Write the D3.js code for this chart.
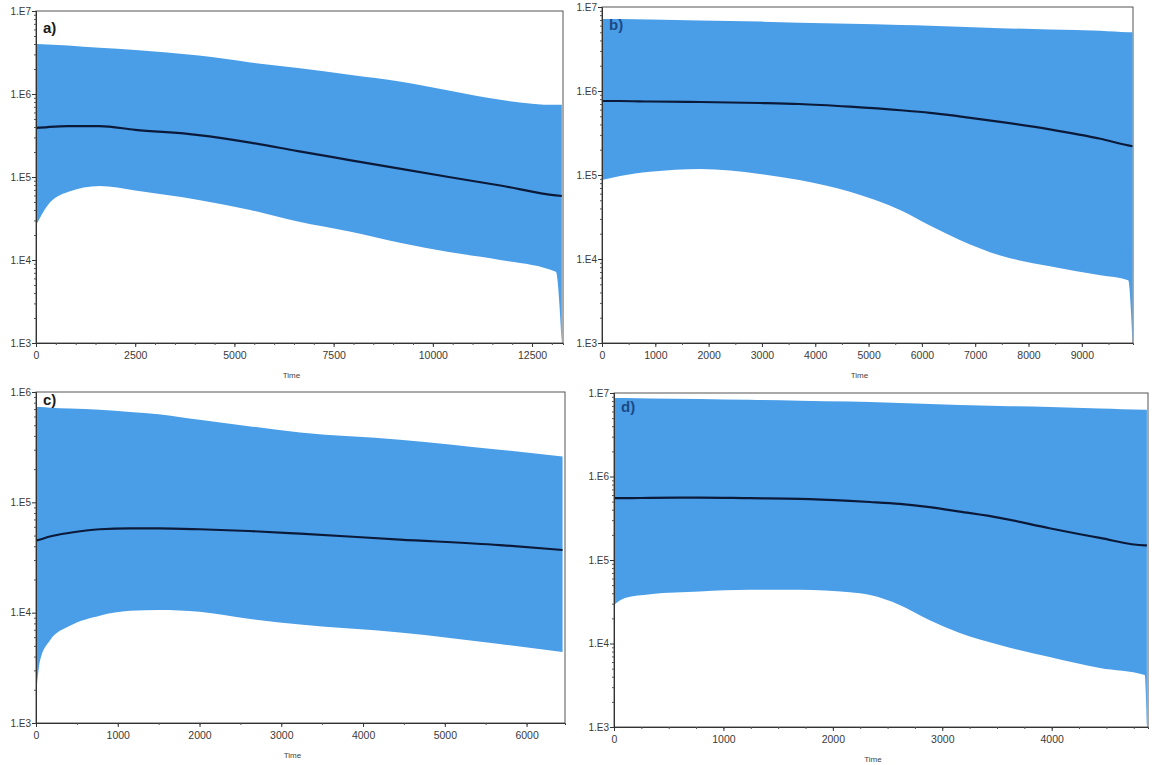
<!DOCTYPE html>
<html>
<head>
<meta charset="utf-8">
<script src="https://cdn.jsdelivr.net/npm/d3@7"></script>
<style>
  body { margin: 0; background: #fff; }
  svg { display: block; }
  text { font-family: "Liberation Sans", Arial, sans-serif; }
</style>
</head>
<body>
<svg id="chart" width="1152" height="765"></svg>
<script>
// panel a)
const aTime   = [0, 300, 800, 1600, 2500, 4100, 5400, 6600, 7900, 9200, 10400, 11700, 13100, 13250]
const aUpper  = [4.0e6, 3.95e6, 3.85e6, 3.6e6, 3.4e6, 2.9e6, 2.4e6, 2.05e6, 1.7e6, 1.4e6, 1.1e6, 8.5e5, 7.4e5, 7.4e5]
const aMedian = [3.9e5, 4.0e5, 4.1e5, 4.1e5, 3.7e5, 3.2e5, 2.6e5, 2.05e5, 1.6e5, 1.25e5, 1.0e5, 7.9e4, 6.0e4, 5.9e4]
const aLower  = [2.6e4, 4.6e4, 6.6e4, 7.8e4, 6.9e4, 5.3e4, 4.0e4, 2.9e4, 2.2e4, 1.6e4, 1.25e4, 1.0e4, 7.2e3, 1.0e3]

// panel b)
const bTime   = [0, 340, 900, 1840, 2960, 3700, 4650, 5600, 6150, 6700, 7470, 8400, 9350, 9870, 9950]
const bUpper  = [7.2e6, 7.2e6, 7.1e6, 6.9e6, 6.7e6, 6.5e6, 6.3e6, 6.1e6, 6.0e6, 5.8e6, 5.6e6, 5.4e6, 5.2e6, 5.0e6, 5.0e6]
const bMedian = [7.6e5, 7.6e5, 7.5e5, 7.4e5, 7.2e5, 7.0e5, 6.5e5, 5.9e5, 5.5e5, 5.0e5, 4.3e5, 3.5e5, 2.7e5, 2.25e5, 2.2e5]
const bLower  = [8.7e4, 9.7e4, 1.09e5, 1.18e5, 1.03e5, 8.7e4, 6.3e4, 3.8e4, 2.5e4, 1.7e4, 1.1e4, 8.2e3, 6.4e3, 5.6e3, 1.0e3]

// panel c)
const cTime   = [0, 50, 170, 415, 780, 1150, 1500, 2000, 2600, 3230, 4450, 5670, 6440]
const cUpper  = [7.3e5, 7.3e5, 7.2e5, 7.1e5, 6.9e5, 6.6e5, 6.3e5, 5.6e5, 4.9e5, 4.3e5, 3.7e5, 3.0e5, 2.6e5]
const cMedian = [4.5e4, 4.6e4, 4.9e4, 5.3e4, 5.7e4, 5.8e4, 5.8e4, 5.7e4, 5.5e4, 5.2e4, 4.6e4, 4.1e4, 3.7e4]
const cLower  = [1.8e3, 3.7e3, 5.6e3, 7.6e3, 9.4e3, 1.04e4, 1.06e4, 1.02e4, 8.8e3, 7.8e3, 6.6e3, 5.2e3, 4.4e3]

// panel d)
const dTime   = [0, 100, 330, 785, 1240, 1700, 2155, 2340, 2610, 2885, 3160, 3525, 3980, 4440, 4850, 4870]
const dUpper  = [8.7e6, 8.7e6, 8.6e6, 8.5e6, 8.3e6, 8.1e6, 7.9e6, 7.8e6, 7.6e6, 7.4e6, 7.2e6, 7.0e6, 6.8e6, 6.5e6, 6.3e6, 6.3e6]
const dMedian = [5.5e5, 5.5e5, 5.55e5, 5.6e5, 5.5e5, 5.4e5, 5.1e5, 4.95e5, 4.7e5, 4.3e5, 3.8e5, 3.2e5, 2.4e5, 1.84e5, 1.5e5, 1.5e5]
const dLower  = [2.9e4, 3.5e4, 3.9e4, 4.2e4, 4.4e4, 4.4e4, 4.1e4, 3.8e4, 2.9e4, 1.9e4, 1.34e4, 9.6e3, 6.9e3, 5.1e3, 4.2e3, 1.0e3]

// axis tick labels
const aXTicks = [0, 2500, 5000, 7500, 10000, 12500]
const bXTicks = [0, 1000, 2000, 3000, 4000, 5000, 6000, 7000, 8000, 9000]
const cXTicks = [0, 1000, 2000, 3000, 4000, 5000, 6000]
const dXTicks = [0, 1000, 2000, 3000, 4000]
const yTicks7 = [1e3, 1e4, 1e5, 1e6, 1e7]
const yTicks6 = [1e3, 1e4, 1e5, 1e6]

const FILL = "#4a9ee7"
const LINE = "#0c1a3a"

const panels = [
  { label: "a)", labelColor: "#1a1a1a", labelDy: 22, time: aTime, upper: aUpper, median: aMedian, lower: aLower,
    xTicks: aXTicks, xMinor: 500, xMax: 13280, yTicks: yTicks7,
    box: { left: 36, right: 563, top: 11, bottom: 343 } },
  { label: "b)", labelColor: "#1b4a85", labelDy: 23, time: bTime, upper: bUpper, median: bMedian, lower: bLower,
    xTicks: bXTicks, xMinor: 500, xMax: 9960, yTicks: yTicks7,
    box: { left: 602, right: 1133, top: 7, bottom: 343 } },
  { label: "c)", labelColor: "#1a1a1a", labelDy: 13, time: cTime, upper: cUpper, median: cMedian, lower: cLower,
    xTicks: cXTicks, xMinor: 500, xMax: 6470, yTicks: yTicks6,
    box: { left: 36, right: 565, top: 392, bottom: 723 } },
  { label: "d)", labelColor: "#1b4a85", labelDy: 19, time: dTime, upper: dUpper, median: dMedian, lower: dLower,
    xTicks: dXTicks, xMinor: 250, xMax: 4880, yTicks: yTicks7,
    box: { left: 614, right: 1148, top: 393, bottom: 727 } }
]

const svg = d3.select("#chart")

const fmtE = v => "1.E" + Math.round(Math.log10(v))

drawPanel = p => {
  const b = p.box
  const x = d3.scaleLinear().domain([0, p.xMax]).range([b.left, b.right])
  const y = d3.scaleLog().domain([p.yTicks[0], p.yTicks[p.yTicks.length - 1]]).range([b.bottom, b.top])

  const rows = p.time.map((t, i) => ({ t: t, up: p.upper[i], med: p.median[i], lo: p.lower[i] }))

  const g = svg.append("g")

  // frame
  g.append("rect")
      .attr("x", b.left).attr("y", b.top)
      .attr("width", b.right - b.left).attr("height", b.bottom - b.top)
      .attr("fill", "#fff")
      .attr("stroke", "#555")
      .attr("stroke-width", 1)

  // 95% HPD band
  const area = d3.area()
      .curve(d3.curveMonotoneX)
      .x(d => x(d.t))
      .y0(d => y(d.lo))
      .y1(d => y(d.up))

  g.append("path")
      .datum(rows)
      .attr("d", area)
      .attr("fill", FILL)

  // median
  const line = d3.line()
      .curve(d3.curveMonotoneX)
      .x(d => x(d.t))
      .y(d => y(d.med))

  g.append("path")
      .datum(rows)
      .attr("d", line)
      .attr("fill", "none")
      .attr("stroke", LINE)
      .attr("stroke-width", 2.2)

  g.append("text")
      .attr("x", b.left + 7).attr("y", b.top + p.labelDy)
      .attr("font-family", "DejaVu Sans, sans-serif")
      .attr("font-weight", "bold")
      .attr("font-size", 15)
      .attr("fill", p.labelColor)
      .text(p.label)

  // x axis
  const minorX = d3.range(0, p.xMax, p.xMinor)
  const xAxis = g.append("g")
      .attr("transform", `translate(0,${b.bottom})`)
      .call(d3.axisBottom(x).tickValues(minorX).tickSize(2).tickFormat(""))
  xAxis.select(".domain").attr("stroke", "#333")
  xAxis.selectAll(".tick line").attr("stroke", "#555")

  const xMajor = g.append("g")
      .attr("transform", `translate(0,${b.bottom})`)
      .call(d3.axisBottom(x).tickValues(p.xTicks).tickSize(4).tickPadding(5).tickFormat(d3.format("d")))
  xMajor.select(".domain").remove()
  xMajor.selectAll(".tick line").attr("stroke", "#333")
  xMajor.selectAll(".tick text")
      .attr("font-size", 10.5)
      .attr("fill", "#3a3a3a")
      .attr("font-family", "Liberation Sans, Arial, sans-serif")

  // y axis
  const yMinor = y.ticks().filter(v => p.yTicks.indexOf(v) < 0)
  const yAxis = g.append("g")
      .attr("transform", `translate(${b.left},0)`)
      .call(d3.axisLeft(y).tickValues(yMinor).tickSize(2).tickFormat(""))
  yAxis.select(".domain").attr("stroke", "#333")
  yAxis.selectAll(".tick line").attr("stroke", "#555")

  const yMajor = g.append("g")
      .attr("transform", `translate(${b.left},0)`)
      .call(d3.axisLeft(y).tickValues(p.yTicks).tickSize(4).tickPadding(1).tickFormat(fmtE))
  yMajor.select(".domain").remove()
  yMajor.selectAll(".tick line").attr("stroke", "#333")
  yMajor.selectAll(".tick text")
      .attr("font-size", 10)
      .attr("fill", "#3a3a3a")
      .attr("font-family", "Liberation Sans, Arial, sans-serif")

  // axis title
  g.append("text")
      .attr("x", (b.left + b.right) / 2 - 8)
      .attr("y", b.bottom + 35)
      .attr("text-anchor", "middle")
      .attr("font-size", 8)
      .attr("fill", "#444")
      .text("Time")
}

panels.forEach(drawPanel)
</script>
</body>
</html>
